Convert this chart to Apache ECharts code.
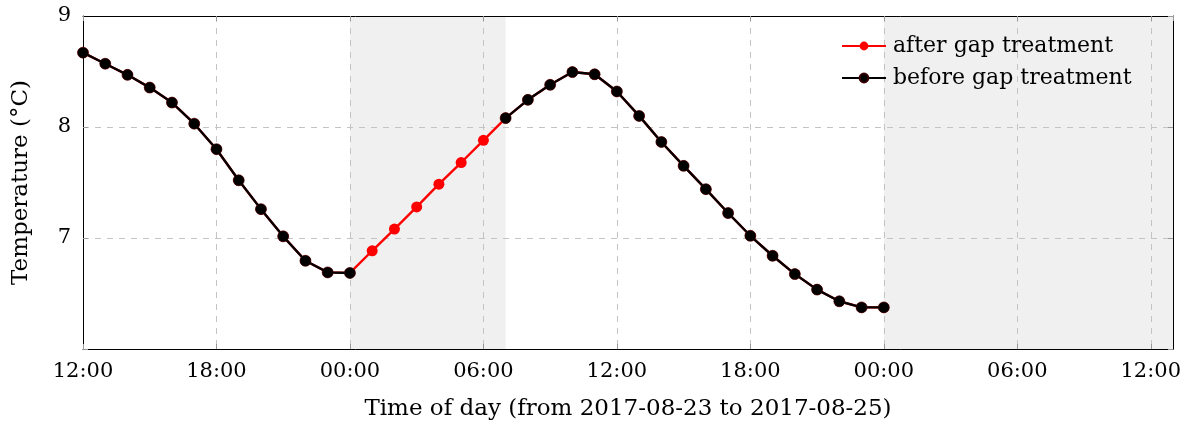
<!DOCTYPE html>
<html>
<head>
<meta charset="utf-8">
<script src="https://cdn.jsdelivr.net/npm/echarts@6/dist/echarts.min.js"></script>
<style>
  html, body { margin: 0; padding: 0; background: #fff; }
  #chart { width: 1189px; height: 426px; }
</style>
</head>
<body>
<div id="chart"></div>
<script>
// Hourly timestamps, 2017-08-23 12:00 to 2017-08-25 00:00
const times = [
  '2017-08-23 12:00', '2017-08-23 13:00', '2017-08-23 14:00', '2017-08-23 15:00',
  '2017-08-23 16:00', '2017-08-23 17:00', '2017-08-23 18:00', '2017-08-23 19:00',
  '2017-08-23 20:00', '2017-08-23 21:00', '2017-08-23 22:00', '2017-08-23 23:00',
  '2017-08-24 00:00', '2017-08-24 01:00', '2017-08-24 02:00', '2017-08-24 03:00',
  '2017-08-24 04:00', '2017-08-24 05:00', '2017-08-24 06:00', '2017-08-24 07:00',
  '2017-08-24 08:00', '2017-08-24 09:00', '2017-08-24 10:00', '2017-08-24 11:00',
  '2017-08-24 12:00', '2017-08-24 13:00', '2017-08-24 14:00', '2017-08-24 15:00',
  '2017-08-24 16:00', '2017-08-24 17:00', '2017-08-24 18:00', '2017-08-24 19:00',
  '2017-08-24 20:00', '2017-08-24 21:00', '2017-08-24 22:00', '2017-08-24 23:00',
  '2017-08-25 00:00'
];

// Temperature (°C) after the gap has been filled
const afterGap = [
  8.67, 8.57, 8.47, 8.355, 8.22, 8.03, 7.80, 7.52, 7.26, 7.015, 6.795, 6.69,
  6.685, 6.885, 7.08, 7.28, 7.485, 7.68, 7.88, 8.08, 8.245, 8.38, 8.495, 8.475,
  8.32, 8.10, 7.865, 7.65, 7.44, 7.225, 7.02, 6.84, 6.675, 6.535, 6.43, 6.375,
  6.375
];

// Temperature (°C) as recorded, with missing hours
const beforeGap = [
  8.67, 8.57, 8.47, 8.355, 8.22, 8.03, 7.80, 7.52, 7.26, 7.015, 6.795, 6.69,
  6.685, null, null, null, null, null, null, 8.08, 8.245, 8.38, 8.495, 8.475,
  8.32, 8.10, 7.865, 7.65, 7.44, 7.225, 7.02, 6.84, 6.675, 6.535, 6.43, 6.375,
  6.375
];

// Shaded periods (start, end)
const shadedPeriods = [
  ['2017-08-24 00:00', '2017-08-24 07:00'],
  ['2017-08-25 00:00', '2017-08-25 13:00']
];

const axisStart = '2017-08-23 12:00';
const axisEnd = '2017-08-25 13:00';

function toMs(s) { return Date.parse(s.replace(' ', 'T') + ':00Z'); }
const t0 = toMs(axisStart);
function hoursSince(s) { return (toMs(s) - t0) / 3600000; }

const xs = times.map(hoursSince);
const pairs = (vals) => xs.map((x, i) => [x, vals[i]]);
const xMax = hoursSince(axisEnd);

const FONT = 'DejaVu Serif';
const gridLine = { show: true, lineStyle: { color: '#c4c4c4', type: [6, 6], width: 1 } };
const frameLine = { show: true, onZero: false, lineStyle: { color: '#000', width: 1 } };
const innerTick = { show: true, inside: true, length: 5, lineStyle: { color: '#999' } };

const chart = echarts.init(document.getElementById('chart'), null, { renderer: 'canvas' });

chart.setOption({
  animation: false,
  textStyle: { fontFamily: FONT, color: '#000' },
  grid: { left: 83, right: 16, top: 16, bottom: 77 },
  legend: {
    data: ['after gap treatment', 'before gap treatment'],
    orient: 'vertical',
    left: 841, top: 34, padding: 0,
    itemWidth: 44, itemHeight: 11, itemGap: 8,
    textStyle: { fontFamily: FONT, fontSize: 22, color: '#000', lineHeight: 24, padding: [0, 0, 0, 2] }
  },
  xAxis: [
    {
      type: 'value',
      min: 0, max: xMax, interval: 6,
      name: 'Time of day (from 2017-08-23 to 2017-08-25)',
      nameLocation: 'middle', nameGap: 49,
      nameTextStyle: { fontFamily: FONT, fontSize: 23, color: '#000' },
      axisLine: frameLine,
      axisTick: innerTick,
      axisLabel: {
        fontFamily: FONT, fontSize: 21, color: '#000', margin: 12,
        formatter: (h) => {
          if (h % 6 !== 0) return '';
          const hh = (12 + h) % 24;
          return String(hh).padStart(2, '0') + ':00';
        }
      },
      splitLine: gridLine,
      z: 1
    },
    {
      // top edge of the frame
      type: 'value', position: 'top',
      min: 0, max: xMax, interval: 6,
      axisLine: frameLine,
      axisTick: innerTick,
      axisLabel: { show: false },
      splitLine: { show: false },
      z: 5
    }
  ],
  yAxis: [
    {
      type: 'value',
      min: 6, max: 9, interval: 1,
      name: 'Temperature (°C)',
      nameLocation: 'middle', nameGap: 50, nameRotate: 90,
      nameTextStyle: { fontFamily: FONT, fontSize: 23, color: '#000' },
      axisLine: frameLine,
      axisTick: innerTick,
      axisLabel: {
        fontFamily: FONT, fontSize: 21, color: '#000', margin: 12,
        formatter: (v) => (v === 6 ? '' : String(v))
      },
      splitLine: gridLine,
      z: 1
    },
    {
      // right edge of the frame
      type: 'value', position: 'right',
      min: 6, max: 9, interval: 1,
      axisLine: frameLine,
      axisTick: innerTick,
      axisLabel: { show: false },
      splitLine: { show: false },
      z: 5
    }
  ],
  series: [
    {
      // background shading for the gap periods, kept beneath the grid
      name: 'shade',
      type: 'line',
      data: [],
      z: -1,
      silent: true,
      markArea: {
        z: -1,
        silent: true,
        itemStyle: { color: '#f0f0f0' },
        data: shadedPeriods.map(([a, b]) => [{ xAxis: hoursSince(a) }, { xAxis: hoursSince(b) }])
      }
    },
    {
      name: 'after gap treatment',
      type: 'line',
      data: pairs(afterGap),
      symbol: 'circle', symbolSize: 11,
      lineStyle: { color: '#ff0000', width: 2.4 },
      itemStyle: { color: '#ff0000' },
      z: 3
    },
    {
      name: 'before gap treatment',
      type: 'line',
      data: pairs(beforeGap),
      connectNulls: false,
      symbol: 'circle', symbolSize: 11,
      lineStyle: { color: '#000', width: 2.4 },
      itemStyle: { color: '#000', borderColor: '#3a0000', borderWidth: 0.6 },
      z: 4
    }
  ]
});
</script>
</body>
</html>
